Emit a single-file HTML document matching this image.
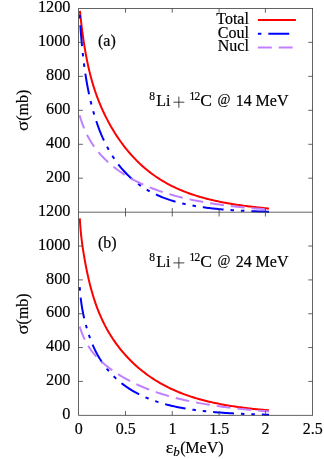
<!DOCTYPE html>
<html><head><meta charset="utf-8"><style>
html,body{margin:0;padding:0;background:#fff;}
svg{display:block;will-change:transform;font-family:"Liberation Serif",serif;font-size:16px;fill:#000;}
text{stroke:#000;stroke-width:0.18px;}
.c{fill:none;stroke-width:2.0;stroke-linecap:butt;stroke-linejoin:round}
</style></head><body>
<svg width="324" height="459" viewBox="0 0 324 459">
<rect width="324" height="459" fill="#fff"/>

<path class="c" stroke="#ff0000" d="M79.90,10.90 L80.24,14.07 L80.58,17.22 L80.92,20.26 L81.26,23.19 L81.60,26.02 L81.94,28.75 L82.28,31.38 L82.63,33.93 L82.97,36.39 L83.31,38.77 L83.65,41.08 L83.99,43.31 L84.33,45.47 L84.67,47.56 L85.01,49.60 L85.35,51.57 L85.69,53.48 L86.03,55.34 L86.37,57.14 L86.71,58.90 L87.05,60.61 L87.39,62.27 L87.74,63.89 L88.08,65.46 L88.42,67.00 L88.76,68.50 L89.10,69.96 L89.44,71.39 L89.78,72.78 L90.12,74.14 L90.46,75.47 L90.80,76.78 L91.14,78.05 L91.48,79.30 L91.82,80.52 L92.16,81.71 L92.51,82.88 L92.85,84.03 L93.19,85.16 L93.53,86.27 L93.87,87.35 L94.21,88.42 L94.55,89.47 L94.89,90.50 L95.23,91.51 L95.57,92.51 L95.91,93.49 L96.25,94.45 L96.59,95.40 L96.93,96.34 L97.27,97.26 L97.62,98.17 L97.96,99.06 L98.30,99.95 L98.64,100.82 L98.98,101.68 L99.32,102.52 L99.66,103.36 L100.00,104.19 L101.42,107.52 L102.84,110.69 L104.26,113.72 L105.68,116.63 L107.10,119.41 L108.52,122.10 L109.94,124.68 L111.36,127.17 L112.78,129.58 L114.20,131.90 L115.62,134.16 L117.04,136.34 L118.46,138.45 L119.88,140.50 L121.30,142.49 L122.72,144.41 L124.14,146.28 L125.56,148.10 L126.98,149.86 L128.40,151.57 L129.82,153.23 L131.24,154.85 L132.66,156.42 L134.08,157.94 L135.50,159.42 L136.92,160.86 L138.34,162.26 L139.76,163.61 L141.18,164.93 L142.61,166.22 L144.03,167.46 L145.45,168.67 L146.87,169.85 L148.29,171.00 L149.71,172.11 L151.13,173.19 L152.55,174.25 L153.97,175.27 L155.39,176.26 L156.81,177.23 L158.23,178.17 L159.65,179.09 L161.07,179.98 L162.49,180.84 L163.91,181.68 L165.33,182.50 L166.75,183.30 L168.17,184.07 L169.59,184.82 L171.01,185.55 L172.43,186.27 L173.85,186.96 L175.27,187.63 L176.69,188.29 L178.11,188.93 L179.53,189.55 L180.95,190.15 L182.37,190.74 L183.79,191.32 L185.21,191.87 L186.63,192.41 L188.05,192.94 L189.47,193.46 L190.89,193.96 L192.31,194.44 L193.73,194.92 L195.15,195.38 L196.57,195.83 L197.99,196.27 L199.41,196.69 L200.83,197.11 L202.25,197.51 L203.67,197.91 L205.09,198.29 L206.51,198.66 L207.93,199.03 L209.35,199.38 L210.77,199.73 L212.19,200.07 L213.61,200.40 L215.03,200.72 L216.45,201.03 L217.87,201.33 L219.29,201.63 L220.71,201.92 L222.13,202.20 L223.55,202.47 L224.97,202.74 L226.39,203.00 L227.82,203.26 L229.24,203.51 L230.66,203.75 L232.08,203.99 L233.50,204.22 L234.92,204.44 L236.34,204.66 L237.76,204.88 L239.18,205.09 L240.60,205.29 L242.02,205.49 L243.44,205.69 L244.86,205.88 L246.28,206.06 L247.70,206.25 L249.12,206.42 L250.54,206.60 L251.96,206.77 L253.38,206.93 L254.80,207.09 L256.22,207.25 L257.64,207.41 L259.06,207.56 L260.48,207.71 L261.90,207.85 L263.32,207.99 L264.74,208.13 L266.16,208.27 L267.58,208.40 L269.00,208.53"/>
<path class="c" stroke="#0000ff" stroke-dasharray="3.48,6.96,20.88,6.96,3.48,6.96" d="M79.70,14.85 L80.04,20.50 L80.39,25.73 L80.73,30.58 L81.08,35.09 L81.42,39.30 L81.76,43.25 L82.11,46.95 L82.45,50.44 L82.80,53.74 L83.14,56.86 L83.48,59.82 L83.83,62.64 L84.17,65.33 L84.52,67.89 L84.86,70.35 L85.21,72.71 L85.55,74.98 L85.89,77.16 L86.24,79.27 L86.58,81.30 L86.93,83.26 L87.27,85.17 L87.61,87.01 L87.96,88.80 L88.30,90.54 L88.65,92.23 L88.99,93.87 L89.33,95.47 L89.68,97.04 L90.02,98.56 L90.37,100.04 L90.71,101.49 L91.05,102.91 L91.40,104.29 L91.74,105.65 L92.09,106.97 L92.43,108.27 L92.77,109.54 L93.12,110.79 L93.46,112.01 L93.81,113.20 L94.15,114.37 L94.49,115.52 L94.84,116.65 L95.18,117.76 L95.53,118.85 L95.87,119.91 L96.22,120.96 L96.56,121.99 L96.90,123.00 L97.25,124.00 L97.59,124.98 L97.94,125.94 L98.28,126.89 L98.62,127.82 L98.97,128.73 L99.31,129.63 L99.66,130.52 L100.00,131.39 L101.42,134.86 L102.84,138.12 L104.26,141.19 L105.68,144.09 L107.10,146.84 L108.52,149.44 L109.94,151.92 L111.36,154.27 L112.78,156.52 L114.20,158.66 L115.62,160.70 L117.04,162.66 L118.46,164.53 L119.88,166.32 L121.30,168.04 L122.72,169.68 L124.14,171.26 L125.56,172.78 L126.98,174.24 L128.40,175.64 L129.82,176.99 L131.24,178.28 L132.66,179.53 L134.08,180.73 L135.50,181.88 L136.92,182.99 L138.34,184.06 L139.76,185.09 L141.18,186.09 L142.61,187.04 L144.03,187.96 L145.45,188.85 L146.87,189.71 L148.29,190.53 L149.71,191.33 L151.13,192.09 L152.55,192.83 L153.97,193.54 L155.39,194.23 L156.81,194.89 L158.23,195.53 L159.65,196.14 L161.07,196.74 L162.49,197.31 L163.91,197.86 L165.33,198.39 L166.75,198.90 L168.17,199.40 L169.59,199.87 L171.01,200.33 L172.43,200.78 L173.85,201.20 L175.27,201.61 L176.69,202.01 L178.11,202.39 L179.53,202.76 L180.95,203.12 L182.37,203.46 L183.79,203.79 L185.21,204.11 L186.63,204.42 L188.05,204.72 L189.47,205.00 L190.89,205.28 L192.31,205.55 L193.73,205.80 L195.15,206.05 L196.57,206.29 L197.99,206.52 L199.41,206.74 L200.83,206.96 L202.25,207.16 L203.67,207.36 L205.09,207.55 L206.51,207.74 L207.93,207.92 L209.35,208.09 L210.77,208.26 L212.19,208.42 L213.61,208.57 L215.03,208.72 L216.45,208.86 L217.87,209.00 L219.29,209.14 L220.71,209.26 L222.13,209.39 L223.55,209.51 L224.97,209.62 L226.39,209.74 L227.82,209.84 L229.24,209.95 L230.66,210.05 L232.08,210.14 L233.50,210.24 L234.92,210.33 L236.34,210.41 L237.76,210.50 L239.18,210.58 L240.60,210.65 L242.02,210.73 L243.44,210.80 L244.86,210.87 L246.28,210.94 L247.70,211.00 L249.12,211.06 L250.54,211.12 L251.96,211.18 L253.38,211.24 L254.80,211.29 L256.22,211.34 L257.64,211.39 L259.06,211.44 L260.48,211.49 L261.90,211.53 L263.32,211.58 L264.74,211.62 L266.16,211.66 L267.58,211.70 L269.00,211.74"/>
<path class="c" stroke="#c080ff" stroke-dasharray="13.92,6.96" d="M79.60,115.31 L79.95,116.48 L80.29,117.61 L80.64,118.72 L80.98,119.79 L81.33,120.83 L81.67,121.84 L82.02,122.83 L82.37,123.79 L82.71,124.73 L83.06,125.64 L83.40,126.53 L83.75,127.40 L84.09,128.25 L84.44,129.08 L84.79,129.88 L85.13,130.67 L85.48,131.45 L85.82,132.20 L86.17,132.94 L86.52,133.66 L86.86,134.37 L87.21,135.07 L87.55,135.75 L87.90,136.41 L88.24,137.06 L88.59,137.70 L88.94,138.33 L89.28,138.95 L89.63,139.56 L89.97,140.15 L90.32,140.73 L90.66,141.31 L91.01,141.87 L91.36,142.43 L91.70,142.97 L92.05,143.51 L92.39,144.04 L92.74,144.56 L93.08,145.07 L93.43,145.58 L93.78,146.08 L94.12,146.57 L94.47,147.05 L94.81,147.53 L95.16,148.00 L95.51,148.46 L95.85,148.92 L96.20,149.37 L96.54,149.81 L96.89,150.25 L97.23,150.69 L97.58,151.12 L97.93,151.54 L98.27,151.96 L98.62,152.37 L98.96,152.78 L99.31,153.18 L99.65,153.58 L100.00,153.98 L101.42,155.55 L102.84,157.06 L104.26,158.51 L105.68,159.90 L107.10,161.24 L108.52,162.53 L109.94,163.78 L111.36,164.98 L112.78,166.15 L114.20,167.28 L115.62,168.37 L117.04,169.43 L118.46,170.46 L119.88,171.46 L121.30,172.43 L122.72,173.38 L124.14,174.30 L125.56,175.19 L126.98,176.06 L128.40,176.91 L129.82,177.73 L131.24,178.53 L132.66,179.32 L134.08,180.08 L135.50,180.82 L136.92,181.55 L138.34,182.26 L139.76,182.95 L141.18,183.62 L142.61,184.28 L144.03,184.92 L145.45,185.55 L146.87,186.16 L148.29,186.75 L149.71,187.34 L151.13,187.91 L152.55,188.47 L153.97,189.01 L155.39,189.54 L156.81,190.06 L158.23,190.57 L159.65,191.07 L161.07,191.55 L162.49,192.03 L163.91,192.49 L165.33,192.95 L166.75,193.39 L168.17,193.82 L169.59,194.25 L171.01,194.66 L172.43,195.07 L173.85,195.47 L175.27,195.86 L176.69,196.24 L178.11,196.61 L179.53,196.97 L180.95,197.33 L182.37,197.68 L183.79,198.02 L185.21,198.35 L186.63,198.68 L188.05,199.00 L189.47,199.31 L190.89,199.62 L192.31,199.92 L193.73,200.21 L195.15,200.50 L196.57,200.78 L197.99,201.06 L199.41,201.33 L200.83,201.59 L202.25,201.85 L203.67,202.10 L205.09,202.35 L206.51,202.59 L207.93,202.83 L209.35,203.06 L210.77,203.29 L212.19,203.51 L213.61,203.73 L215.03,203.95 L216.45,204.16 L217.87,204.36 L219.29,204.56 L220.71,204.76 L222.13,204.95 L223.55,205.14 L224.97,205.32 L226.39,205.50 L227.82,205.68 L229.24,205.85 L230.66,206.02 L232.08,206.19 L233.50,206.35 L234.92,206.51 L236.34,206.66 L237.76,206.82 L239.18,206.97 L240.60,207.11 L242.02,207.26 L243.44,207.40 L244.86,207.53 L246.28,207.67 L247.70,207.80 L249.12,207.93 L250.54,208.05 L251.96,208.18 L253.38,208.30 L254.80,208.42 L256.22,208.53 L257.64,208.65 L259.06,208.76 L260.48,208.87 L261.90,208.98 L263.32,209.08 L264.74,209.18 L266.16,209.28 L267.58,209.38 L269.00,209.48"/>
<path class="c" stroke="#ff0000" d="M79.80,218.41 L80.14,223.96 L80.48,228.45 L80.83,232.24 L81.17,235.54 L81.51,238.51 L81.85,241.25 L82.20,243.81 L82.54,246.24 L82.88,248.56 L83.22,250.80 L83.57,252.96 L83.91,255.06 L84.25,257.10 L84.59,259.08 L84.94,261.01 L85.28,262.89 L85.62,264.72 L85.96,266.51 L86.31,268.25 L86.65,269.95 L86.99,271.62 L87.33,273.24 L87.67,274.83 L88.02,276.38 L88.36,277.90 L88.70,279.38 L89.04,280.83 L89.39,282.25 L89.73,283.64 L90.07,285.00 L90.41,286.33 L90.76,287.63 L91.10,288.91 L91.44,290.16 L91.78,291.38 L92.13,292.58 L92.47,293.76 L92.81,294.92 L93.15,296.05 L93.49,297.16 L93.84,298.25 L94.18,299.32 L94.52,300.37 L94.86,301.40 L95.21,302.42 L95.55,303.41 L95.89,304.39 L96.23,305.35 L96.58,306.30 L96.92,307.23 L97.26,308.14 L97.60,309.04 L97.95,309.93 L98.29,310.80 L98.63,311.66 L98.97,312.50 L99.32,313.33 L99.66,314.15 L100.00,314.96 L101.42,318.19 L102.84,321.23 L104.26,324.11 L105.68,326.85 L107.10,329.45 L108.52,331.93 L109.94,334.31 L111.36,336.58 L112.78,338.76 L114.20,340.86 L115.62,342.88 L117.04,344.83 L118.46,346.71 L119.88,348.53 L121.30,350.29 L122.72,351.99 L124.14,353.64 L125.56,355.24 L126.98,356.79 L128.40,358.29 L129.82,359.75 L131.24,361.17 L132.66,362.56 L134.08,363.90 L135.50,365.20 L136.92,366.47 L138.34,367.71 L139.76,368.91 L141.18,370.08 L142.61,371.22 L144.03,372.33 L145.45,373.41 L146.87,374.47 L148.29,375.49 L149.71,376.49 L151.13,377.46 L152.55,378.41 L153.97,379.33 L155.39,380.23 L156.81,381.11 L158.23,381.96 L159.65,382.79 L161.07,383.61 L162.49,384.40 L163.91,385.17 L165.33,385.92 L166.75,386.65 L168.17,387.36 L169.59,388.06 L171.01,388.73 L172.43,389.39 L173.85,390.03 L175.27,390.66 L176.69,391.27 L178.11,391.87 L179.53,392.45 L180.95,393.01 L182.37,393.56 L183.79,394.10 L185.21,394.63 L186.63,395.14 L188.05,395.63 L189.47,396.12 L190.89,396.59 L192.31,397.05 L193.73,397.50 L195.15,397.94 L196.57,398.36 L197.99,398.78 L199.41,399.18 L200.83,399.58 L202.25,399.96 L203.67,400.34 L205.09,400.70 L206.51,401.06 L207.93,401.41 L209.35,401.75 L210.77,402.07 L212.19,402.40 L213.61,402.71 L215.03,403.02 L216.45,403.31 L217.87,403.60 L219.29,403.89 L220.71,404.16 L222.13,404.43 L223.55,404.69 L224.97,404.95 L226.39,405.20 L227.82,405.44 L229.24,405.67 L230.66,405.90 L232.08,406.13 L233.50,406.35 L234.92,406.56 L236.34,406.77 L237.76,406.97 L239.18,407.17 L240.60,407.36 L242.02,407.55 L243.44,407.73 L244.86,407.91 L246.28,408.08 L247.70,408.25 L249.12,408.42 L250.54,408.58 L251.96,408.74 L253.38,408.89 L254.80,409.04 L256.22,409.18 L257.64,409.32 L259.06,409.46 L260.48,409.60 L261.90,409.73 L263.32,409.85 L264.74,409.98 L266.16,410.10 L267.58,410.22 L269.00,410.33"/>
<path class="c" stroke="#0000ff" stroke-dasharray="3.48,6.96,20.88,6.96,3.48,6.96" d="M79.70,287.20 L80.04,291.46 L80.39,295.10 L80.73,298.27 L81.08,301.08 L81.42,303.59 L81.76,305.88 L82.11,307.99 L82.45,309.94 L82.80,311.78 L83.14,313.51 L83.48,315.16 L83.83,316.74 L84.17,318.26 L84.52,319.71 L84.86,321.12 L85.21,322.48 L85.55,323.80 L85.89,325.09 L86.24,326.33 L86.58,327.55 L86.93,328.73 L87.27,329.88 L87.61,331.00 L87.96,332.10 L88.30,333.17 L88.65,334.22 L88.99,335.24 L89.33,336.24 L89.68,337.21 L90.02,338.17 L90.37,339.10 L90.71,340.01 L91.05,340.91 L91.40,341.78 L91.74,342.64 L92.09,343.48 L92.43,344.31 L92.77,345.11 L93.12,345.91 L93.46,346.68 L93.81,347.44 L94.15,348.19 L94.49,348.92 L94.84,349.64 L95.18,350.35 L95.53,351.05 L95.87,351.73 L96.22,352.40 L96.56,353.06 L96.90,353.70 L97.25,354.34 L97.59,354.97 L97.94,355.58 L98.28,356.19 L98.62,356.78 L98.97,357.37 L99.31,357.95 L99.66,358.52 L100.00,359.08 L101.42,361.30 L102.84,363.39 L104.26,365.37 L105.68,367.25 L107.10,369.03 L108.52,370.72 L109.94,372.33 L111.36,373.87 L112.78,375.34 L114.20,376.75 L115.62,378.10 L117.04,379.40 L118.46,380.64 L119.88,381.84 L121.30,382.99 L122.72,384.09 L124.14,385.16 L125.56,386.19 L126.98,387.18 L128.40,388.13 L129.82,389.05 L131.24,389.94 L132.66,390.80 L134.08,391.63 L135.50,392.43 L136.92,393.20 L138.34,393.95 L139.76,394.67 L141.18,395.37 L142.61,396.04 L144.03,396.69 L145.45,397.32 L146.87,397.93 L148.29,398.52 L149.71,399.08 L151.13,399.63 L152.55,400.17 L153.97,400.68 L155.39,401.18 L156.81,401.66 L158.23,402.12 L159.65,402.57 L161.07,403.00 L162.49,403.42 L163.91,403.83 L165.33,404.22 L166.75,404.60 L168.17,404.97 L169.59,405.32 L171.01,405.66 L172.43,406.00 L173.85,406.32 L175.27,406.63 L176.69,406.93 L178.11,407.22 L179.53,407.50 L180.95,407.77 L182.37,408.03 L183.79,408.29 L185.21,408.53 L186.63,408.77 L188.05,409.00 L189.47,409.22 L190.89,409.44 L192.31,409.64 L193.73,409.84 L195.15,410.04 L196.57,410.23 L197.99,410.41 L199.41,410.58 L200.83,410.75 L202.25,410.92 L203.67,411.08 L205.09,411.23 L206.51,411.38 L207.93,411.52 L209.35,411.66 L210.77,411.79 L212.19,411.92 L213.61,412.05 L215.03,412.17 L216.45,412.29 L217.87,412.40 L219.29,412.51 L220.71,412.62 L222.13,412.72 L223.55,412.82 L224.97,412.92 L226.39,413.01 L227.82,413.10 L229.24,413.19 L230.66,413.27 L232.08,413.35 L233.50,413.43 L234.92,413.51 L236.34,413.58 L237.76,413.65 L239.18,413.72 L240.60,413.79 L242.02,413.85 L243.44,413.91 L244.86,413.97 L246.28,414.03 L247.70,414.09 L249.12,414.14 L250.54,414.19 L251.96,414.24 L253.38,414.29 L254.80,414.34 L256.22,414.39 L257.64,414.43 L259.06,414.48 L260.48,414.52 L261.90,414.56 L263.32,414.60 L264.74,414.63 L266.16,414.67 L267.58,414.71 L269.00,414.74"/>
<path class="c" stroke="#c080ff" stroke-dasharray="13.92,6.96" d="M79.70,326.59 L80.04,327.69 L80.39,328.75 L80.73,329.77 L81.08,330.77 L81.42,331.72 L81.76,332.65 L82.11,333.55 L82.45,334.42 L82.80,335.27 L83.14,336.09 L83.48,336.89 L83.83,337.66 L84.17,338.41 L84.52,339.14 L84.86,339.85 L85.21,340.55 L85.55,341.22 L85.89,341.88 L86.24,342.52 L86.58,343.14 L86.93,343.75 L87.27,344.35 L87.61,344.93 L87.96,345.50 L88.30,346.06 L88.65,346.60 L88.99,347.13 L89.33,347.66 L89.68,348.17 L90.02,348.67 L90.37,349.16 L90.71,349.64 L91.05,350.12 L91.40,350.58 L91.74,351.04 L92.09,351.49 L92.43,351.93 L92.77,352.36 L93.12,352.79 L93.46,353.21 L93.81,353.63 L94.15,354.03 L94.49,354.44 L94.84,354.83 L95.18,355.22 L95.53,355.61 L95.87,355.99 L96.22,356.36 L96.56,356.74 L96.90,357.10 L97.25,357.46 L97.59,357.82 L97.94,358.17 L98.28,358.52 L98.62,358.86 L98.97,359.21 L99.31,359.54 L99.66,359.88 L100.00,360.21 L101.42,361.53 L102.84,362.81 L104.26,364.03 L105.68,365.22 L107.10,366.36 L108.52,367.47 L109.94,368.55 L111.36,369.59 L112.78,370.61 L114.20,371.60 L115.62,372.56 L117.04,373.49 L118.46,374.41 L119.88,375.29 L121.30,376.16 L122.72,377.01 L124.14,377.83 L125.56,378.64 L126.98,379.42 L128.40,380.19 L129.82,380.94 L131.24,381.67 L132.66,382.39 L134.08,383.09 L135.50,383.77 L136.92,384.44 L138.34,385.09 L139.76,385.73 L141.18,386.35 L142.61,386.96 L144.03,387.55 L145.45,388.14 L146.87,388.71 L148.29,389.26 L149.71,389.81 L151.13,390.34 L152.55,390.86 L153.97,391.37 L155.39,391.87 L156.81,392.36 L158.23,392.84 L159.65,393.31 L161.07,393.76 L162.49,394.21 L163.91,394.65 L165.33,395.08 L166.75,395.50 L168.17,395.91 L169.59,396.32 L171.01,396.71 L172.43,397.10 L173.85,397.48 L175.27,397.85 L176.69,398.21 L178.11,398.57 L179.53,398.92 L180.95,399.26 L182.37,399.59 L183.79,399.92 L185.21,400.24 L186.63,400.56 L188.05,400.87 L189.47,401.17 L190.89,401.46 L192.31,401.76 L193.73,402.04 L195.15,402.32 L196.57,402.59 L197.99,402.86 L199.41,403.13 L200.83,403.38 L202.25,403.64 L203.67,403.89 L205.09,404.13 L206.51,404.37 L207.93,404.60 L209.35,404.83 L210.77,405.06 L212.19,405.28 L213.61,405.50 L215.03,405.71 L216.45,405.92 L217.87,406.12 L219.29,406.32 L220.71,406.52 L222.13,406.71 L223.55,406.90 L224.97,407.09 L226.39,407.27 L227.82,407.45 L229.24,407.63 L230.66,407.80 L232.08,407.97 L233.50,408.14 L234.92,408.30 L236.34,408.46 L237.76,408.62 L239.18,408.77 L240.60,408.92 L242.02,409.07 L243.44,409.22 L244.86,409.36 L246.28,409.50 L247.70,409.64 L249.12,409.78 L250.54,409.91 L251.96,410.04 L253.38,410.17 L254.80,410.30 L256.22,410.42 L257.64,410.54 L259.06,410.66 L260.48,410.78 L261.90,410.90 L263.32,411.01 L264.74,411.12 L266.16,411.23 L267.58,411.34 L269.00,411.44"/>
<g fill="none" stroke="#3c3c3c" stroke-width="0.8">
<rect x="78.6" y="8.4" width="234.00000000000003" height="406.90000000000003"/>
<path d="M78.6,212.2H312.6"/>
<path d="M125.5,8.4v4.3 M125.5,207.89999999999998v8.6 M125.5,415.3v-4.3"/><path d="M172.25,8.4v4.3 M172.25,207.89999999999998v8.6 M172.25,415.3v-4.3"/><path d="M219.1,8.4v4.3 M219.1,207.89999999999998v8.6 M219.1,415.3v-4.3"/><path d="M265.4,8.4v4.3 M265.4,207.89999999999998v8.6 M265.4,415.3v-4.3"/><path d="M78.6,42.35h4.3 M312.6,42.35h-4.3"/><path d="M78.6,76.35h4.3 M312.6,76.35h-4.3"/><path d="M78.6,110.3h4.3 M312.6,110.3h-4.3"/><path d="M78.6,144.3h4.3 M312.6,144.3h-4.3"/><path d="M78.6,178.2h4.3 M312.6,178.2h-4.3"/><path d="M78.6,246.0h4.3 M312.6,246.0h-4.3"/><path d="M78.6,279.9h4.3 M312.6,279.9h-4.3"/><path d="M78.6,313.75h4.3 M312.6,313.75h-4.3"/><path d="M78.6,347.55h4.3 M312.6,347.55h-4.3"/><path d="M78.6,381.4h4.3 M312.6,381.4h-4.3"/>
</g>
<text x="70.5" y="12.1" text-anchor="end" font-size="16.3">1200</text><text x="70.5" y="46.1" text-anchor="end" font-size="16.3">1000</text><text x="70.5" y="80.0" text-anchor="end" font-size="16.3">800</text><text x="70.5" y="114.0" text-anchor="end" font-size="16.3">600</text><text x="70.5" y="148.0" text-anchor="end" font-size="16.3">400</text><text x="70.5" y="181.9" text-anchor="end" font-size="16.3">200</text><text x="70.5" y="215.9" text-anchor="end" font-size="16.3">1200</text><text x="70.5" y="249.7" text-anchor="end" font-size="16.3">1000</text><text x="70.5" y="283.6" text-anchor="end" font-size="16.3">800</text><text x="70.5" y="317.4" text-anchor="end" font-size="16.3">600</text><text x="70.5" y="351.2" text-anchor="end" font-size="16.3">400</text><text x="70.5" y="385.1" text-anchor="end" font-size="16.3">200</text><text x="70.5" y="418.8" text-anchor="end" font-size="16.3">0</text><text x="78.8" y="434" text-anchor="middle">0</text><text x="125.7" y="434" text-anchor="middle">0.5</text><text x="172.45" y="434" text-anchor="middle">1</text><text x="219.29999999999998" y="434" text-anchor="middle">1.5</text><text x="265.59999999999997" y="434" text-anchor="middle">2</text><text x="312.8" y="434" text-anchor="middle">2.5</text>
<text x="98" y="46.1">(a)</text>
<text x="98" y="248.2">(b)</text>
<text x="149.2" y="99.8" font-size="11.5" stroke-width="0.1">8</text>
<text x="156.3" y="106">Li</text>
<path d="M173.4,102.2H184.3 M178.85,96.6V107.8" stroke="#222" stroke-width="0.85" fill="none"/>
<text x="189.6" y="99.8" font-size="11.5" stroke-width="0.1" textLength="10.6">12</text>
<text x="200.3" y="106" textLength="11.7" lengthAdjust="spacingAndGlyphs">C</text>
<text x="217.4" y="103.8" font-size="14">@</text>
<text x="235.8" y="106">14</text>
<text x="255.6" y="106">MeV</text>
<text x="149.2" y="260.5" font-size="11.5" stroke-width="0.1">8</text>
<text x="156.3" y="266.7">Li</text>
<path d="M173.4,262.9H184.3 M178.85,257.29999999999995V268.5" stroke="#222" stroke-width="0.85" fill="none"/>
<text x="189.6" y="260.5" font-size="11.5" stroke-width="0.1" textLength="10.6">12</text>
<text x="200.3" y="266.7" textLength="11.7" lengthAdjust="spacingAndGlyphs">C</text>
<text x="217.4" y="264.5" font-size="14">@</text>
<text x="235.8" y="266.7">24</text>
<text x="255.6" y="266.7">MeV</text>
<text x="248.9" y="23.6" text-anchor="end">Total</text>
<text x="248.9" y="37.5" text-anchor="end">Coul</text>
<text x="248.9" y="50.9" text-anchor="end">Nucl</text>
<path class="c" stroke="#ff0000" d="M257.9,19.9H295.9"/>
<path class="c" stroke="#0000ff" stroke-dasharray="3.48,6.96,20.88,6.96,3.48,6.96" d="M257.9,33.8H295.9"/>
<path class="c" stroke="#c080ff" stroke-dasharray="13.92,6.96" d="M257.9,47.6H295.9"/>
<g transform="translate(27.9,131.2) rotate(-90)"><text x="0.3" y="0" textLength="10" lengthAdjust="spacingAndGlyphs">σ</text><text x="10.4" y="0">(mb)</text></g>
<g transform="translate(27.9,334.8) rotate(-90)"><text x="0.3" y="0" textLength="10" lengthAdjust="spacingAndGlyphs">σ</text><text x="10.4" y="0">(mb)</text></g>
<text x="165.8" y="452.6" textLength="7.6" lengthAdjust="spacingAndGlyphs">ε</text>
<text x="173.3" y="455.5" font-size="13" font-style="italic" stroke-width="0.1">b</text>
<text x="180.3" y="452.6">(</text><text x="185.3" y="452.6">MeV)</text>
</svg>
</body></html>
